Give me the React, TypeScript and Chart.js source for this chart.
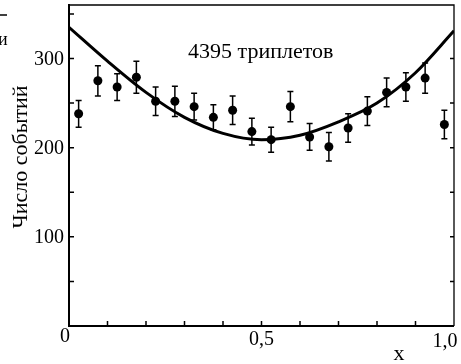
import React, { useEffect, useRef } from "react";
import { Chart, registerables } from "chart.js";

Chart.register(...registerables);

// Bin centres of x and the number of events per bin
const binX = [0.025, 0.075, 0.125, 0.175, 0.225, 0.275, 0.325, 0.375, 0.425, 0.475,
  0.525, 0.575, 0.625, 0.675, 0.725, 0.775, 0.825, 0.875, 0.925, 0.975];
const counts = [238, 275, 268, 279, 252, 252, 246, 234, 242, 218,
  209, 246, 212, 201, 222, 241, 262, 268, 278, 226];
const errors = [15, 17, 15, 18, 16, 17, 15, 14, 16, 15,
  14, 17, 15, 16, 16, 16, 16, 16, 17, 16];

// Fitted curve, read at x = 0, 0.1, ..., 1.0
const curveX = [0, 0.1, 0.2, 0.3, 0.4, 0.5, 0.6, 0.7, 0.8, 0.9, 1.0];
const curveY = [335, 297, 262, 234, 216, 209, 214, 229, 250, 284, 331];

// Axis ticks and labels
const yLabelValues = [100, 200, 300];
const yTickValues = [50, 100, 150, 200, 250, 300, 350];
const yRightTickValues = [50, 100, 150, 200, 250, 300];
const xTickValues = [0.1, 0.2, 0.3, 0.4, 0.5, 0.6, 0.7, 0.8, 0.9];
const xLabelValues = [0, 0.5, 1.0];
const xLabels = ["0", "0,5", "1,0"];

const annotation = "4395 триплетов";
const yTitle = "Число событий";
const xTitle = "x";

const FONT = "\"Liberation Serif\", \"DejaVu Serif\", serif";

const decorPlugin = {
  id: "decor",
  beforeDatasetsDraw(chart: any) {
    const ctx = chart.ctx;
    const xs = chart.scales.x;
    const ys = chart.scales.y;
    ctx.save();
    ctx.strokeStyle = "#000";
    ctx.lineWidth = 1.5;
    binX.forEach((xv, i) => {
      const px = xs.getPixelForValue(xv);
      const top = ys.getPixelForValue(counts[i] + errors[i]);
      const bot = ys.getPixelForValue(counts[i] - errors[i]);
      ctx.beginPath();
      ctx.moveTo(px, top);
      ctx.lineTo(px, bot);
      ctx.moveTo(px - 3, top);
      ctx.lineTo(px + 3, top);
      ctx.moveTo(px - 3, bot);
      ctx.lineTo(px + 3, bot);
      ctx.stroke();
    });
    ctx.restore();
  },
  afterDraw(chart: any) {
    const ctx = chart.ctx;
    const xs = chart.scales.x;
    const ys = chart.scales.y;
    const a = chart.chartArea;
    ctx.save();
    ctx.strokeStyle = "#000";
    ctx.lineCap = "butt";
    // top & right frame (thin)
    ctx.lineWidth = 1.3;
    ctx.beginPath();
    ctx.moveTo(a.left, a.top);
    ctx.lineTo(a.right, a.top);
    ctx.lineTo(a.right, a.bottom);
    ctx.stroke();
    // left & bottom axes (thick)
    ctx.lineWidth = 2;
    ctx.beginPath();
    ctx.moveTo(a.left, a.top - 1);
    ctx.lineTo(a.left, a.bottom);
    ctx.lineTo(a.right, a.bottom);
    ctx.stroke();
    // inward ticks
    ctx.lineWidth = 1.5;
    ctx.beginPath();
    yTickValues.forEach((v) => {
      const py = ys.getPixelForValue(v);
      ctx.moveTo(a.left, py);
      ctx.lineTo(a.left + 5, py);
    });
    yRightTickValues.forEach((v) => {
      const py = ys.getPixelForValue(v);
      ctx.moveTo(a.right, py);
      ctx.lineTo(a.right - 4, py);
    });
    xTickValues.forEach((v) => {
      const px = xs.getPixelForValue(v);
      ctx.moveTo(px, a.bottom);
      ctx.lineTo(px, a.bottom - 5);
    });
    ctx.stroke();

    ctx.fillStyle = "#000";
    // y labels
    ctx.font = `20px ${FONT}`;
    ctx.textAlign = "right";
    ctx.textBaseline = "middle";
    yLabelValues.forEach((v) => {
      ctx.fillText(String(v), a.left - 5, ys.getPixelForValue(v) + 1);
    });
    // x labels
    ctx.textAlign = "center";
    const xOff = [-4, 0, -9];
    const yOff = [11, 14, 16];
    xLabelValues.forEach((v, i) => {
      ctx.fillText(xLabels[i], xs.getPixelForValue(v) + xOff[i], a.bottom + yOff[i]);
    });
    // x title
    ctx.font = `22px ${FONT}`;
    ctx.fillText(xTitle, 399, 354);
    // annotation
    ctx.textAlign = "left";
    ctx.textBaseline = "alphabetic";
    ctx.fillText(annotation, 188, 58);
    // y title
    ctx.save();
    ctx.translate(27, 157);
    ctx.rotate(-Math.PI / 2);
    ctx.textAlign = "center";
    ctx.fillText(yTitle, 0, 0);
    ctx.restore();
    // fragment of neighbouring text at the left edge
    ctx.font = `18px ${FONT}`;
    ctx.fillText("и", -2, 45);
    ctx.lineWidth = 1.5;
    ctx.beginPath();
    ctx.moveTo(0, 15);
    ctx.lineTo(7, 15);
    ctx.stroke();
    ctx.restore();
  },
};

export default function App() {
  const ref = useRef<HTMLCanvasElement | null>(null);
  useEffect(() => {
    if (!ref.current) return;
    const chart = new Chart(ref.current, {
      type: "scatter",
      data: {
        datasets: [
          {
            type: "line",
            data: curveX.map((x, i) => ({ x, y: curveY[i] })),
            borderColor: "#000",
            borderWidth: 3,
            pointRadius: 0,
            cubicInterpolationMode: "monotone",
            fill: false,
          },
          {
            type: "scatter",
            data: binX.map((x, i) => ({ x, y: counts[i] })),
            backgroundColor: "#000",
            borderColor: "#000",
            pointRadius: 4.5,
            borderWidth: 0,
          },
        ],
      },
      options: {
        responsive: false,
        animation: false,
        layout: { padding: { left: 69, right: 7, top: 5, bottom: 38 } },
        plugins: { legend: { display: false }, tooltip: { enabled: false } },
        scales: {
          x: { type: "linear", min: 0, max: 1, display: false },
          y: { type: "linear", min: 0, max: 360, display: false },
        },
      },
      plugins: [decorPlugin],
    });
    return () => chart.destroy();
  }, []);
  return (
    <div style={{ position: "fixed", left: 0, top: 0, width: 461, height: 364, background: "#fff" }}>
      <canvas ref={ref} width={461} height={364} />
    </div>
  );
}
